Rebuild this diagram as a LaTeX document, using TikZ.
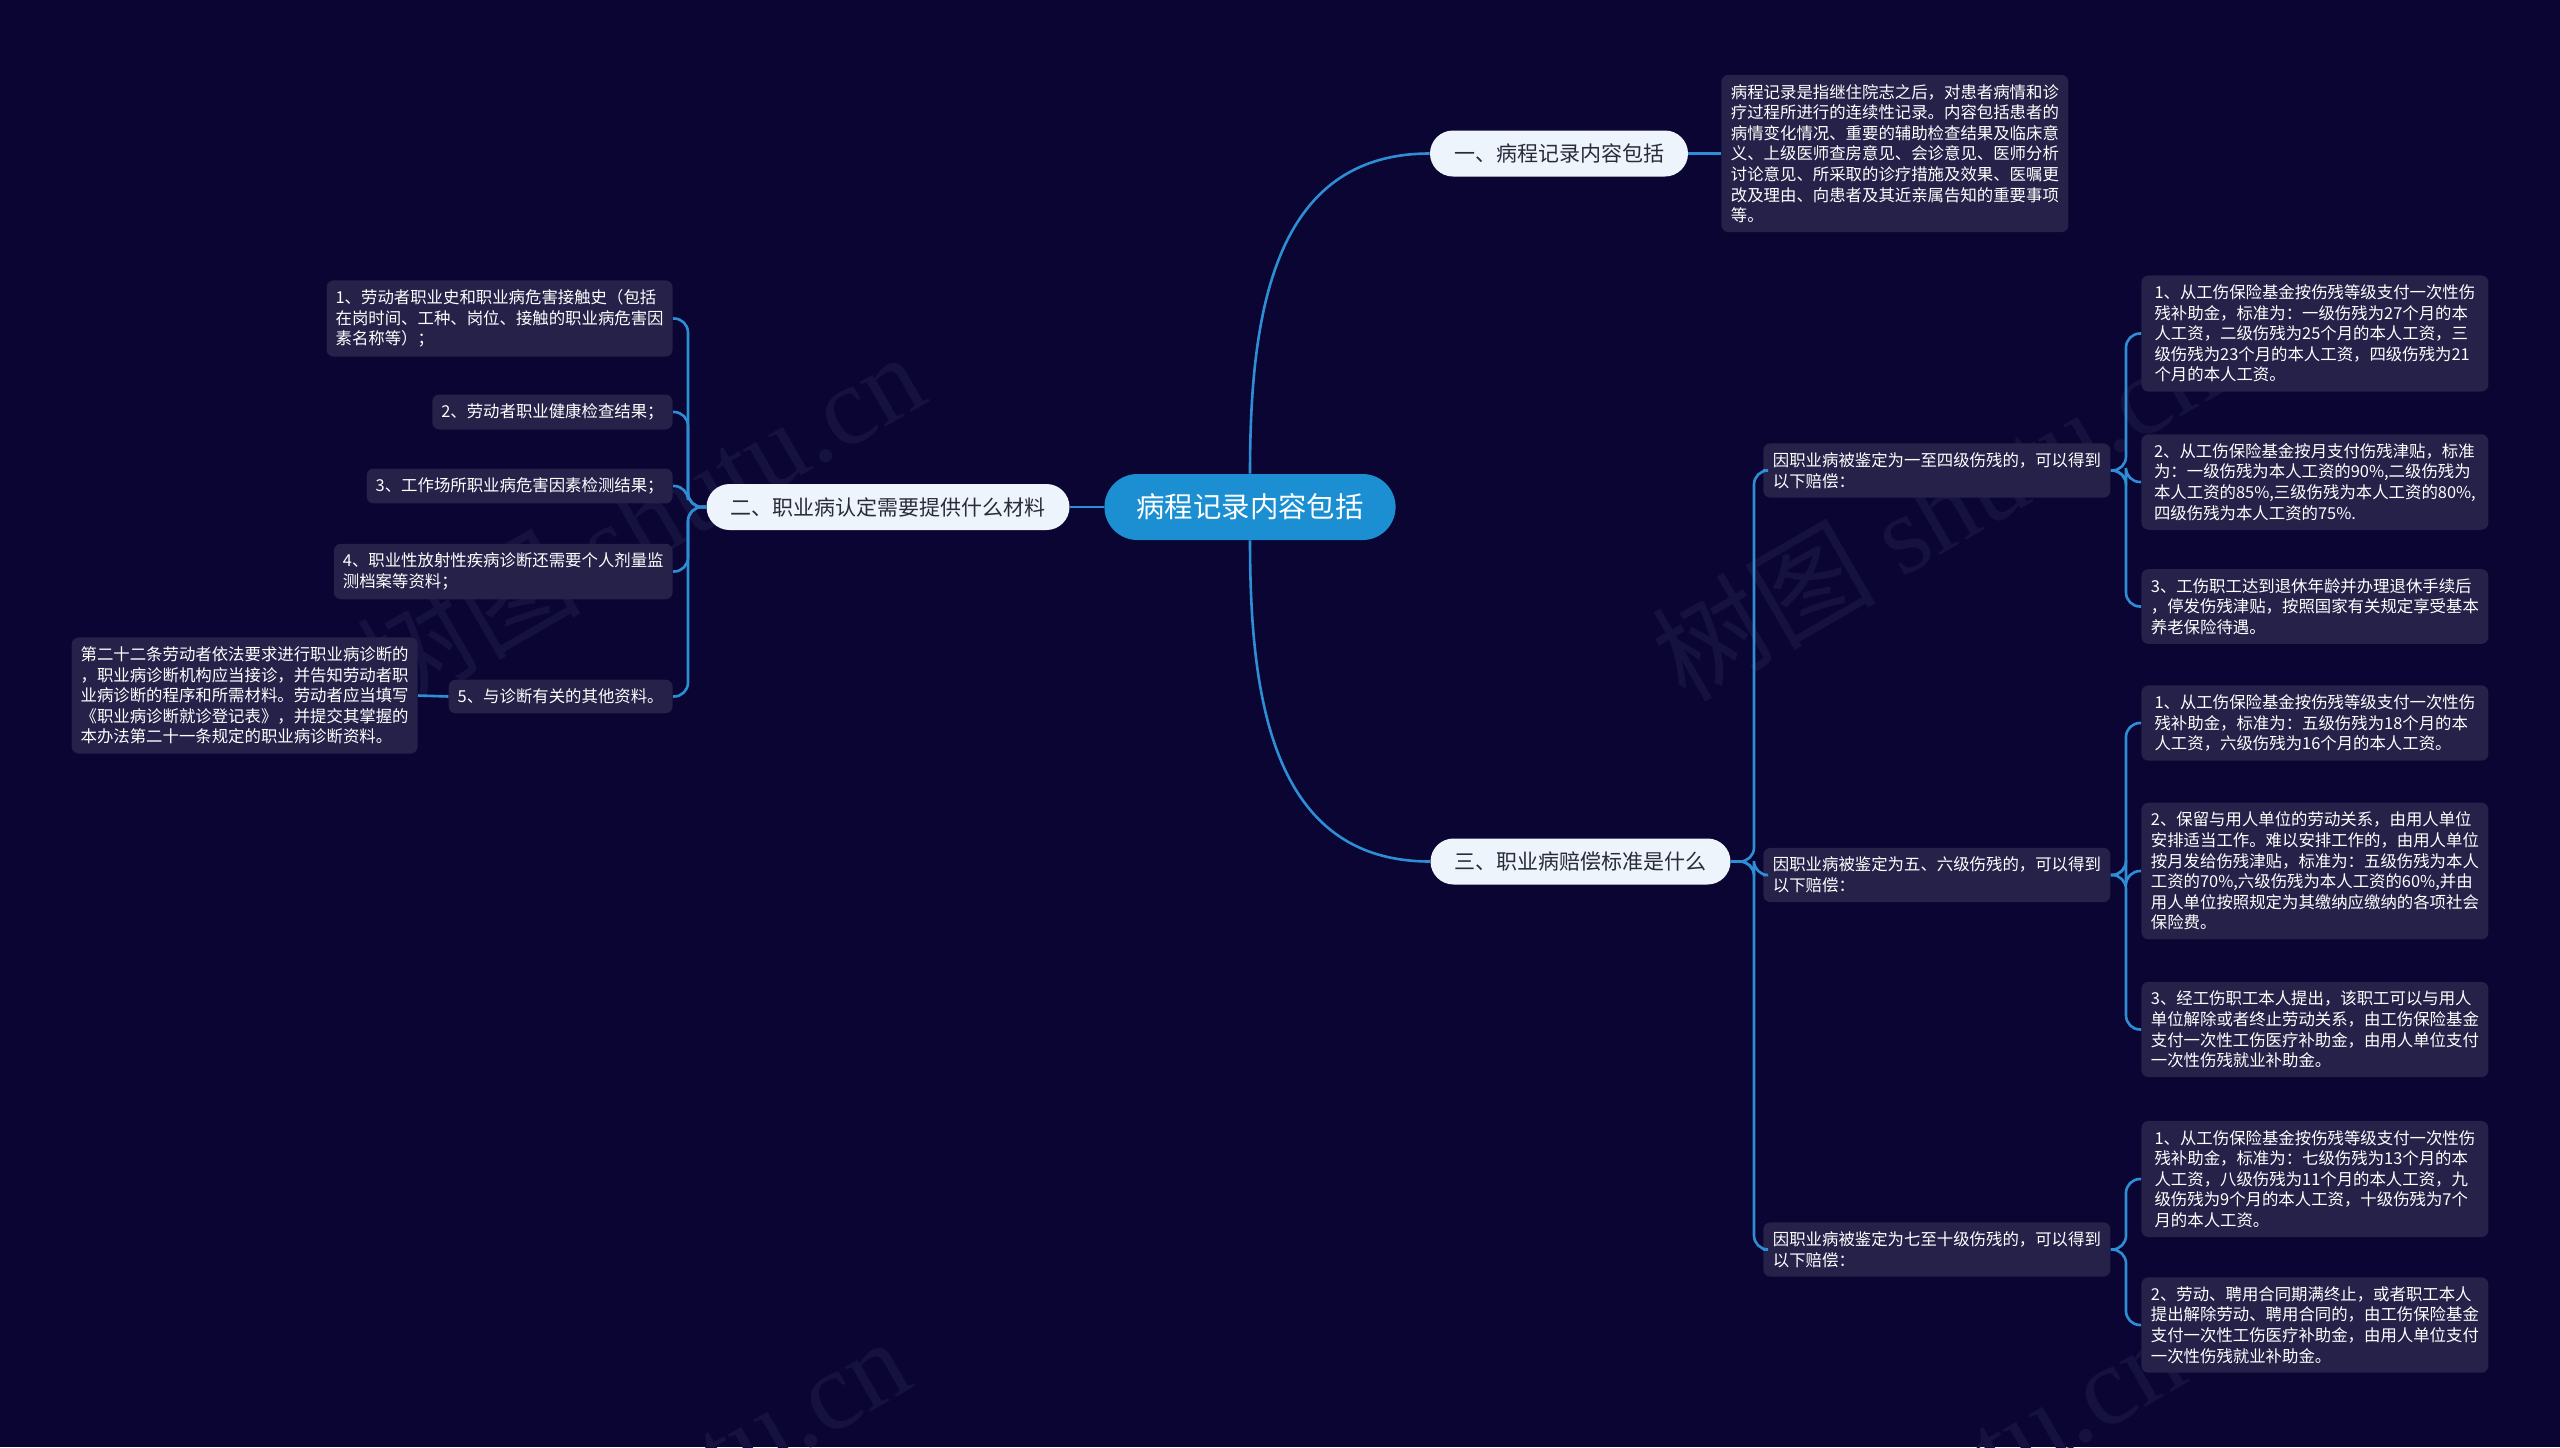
\documentclass[tikz,border=0pt]{standalone}
\usepackage{fontspec}
\setmainfont{Noto Sans CJK SC}
\newfontfamily\wmserif{Liberation Serif}
\definecolor{bgc}{HTML}{0A0532}
\definecolor{leafc}{HTML}{252148}
\definecolor{branchc}{HTML}{EEF4FC}
\definecolor{branchtext}{HTML}{2A2A3A}
\definecolor{rootc}{HTML}{1B8FD2}
\definecolor{linec}{HTML}{2D8ED6}
\definecolor{wmc}{HTML}{16123F}
\tikzset{
  conn/.style={draw=linec, line width=1.3pt, rounded corners=7pt},
  rootconn/.style={draw=linec, line width=1.3pt},
  leaf/.style={fill=leafc, text=white, rounded corners=3.5pt, inner xsep=4.5pt, inner ysep=4.6pt, align=left, font=\fontsize{8.2pt}{10.3pt}\selectfont},
  rleaf/.style={leaf, minimum width=173.5pt, anchor=west},
  lleaf/.style={leaf, anchor=east},
  branch/.style={fill=branchc, text=branchtext, rounded corners=11.5pt, minimum height=23pt, inner xsep=12pt, font=\fontsize{10.5pt}{12pt}\selectfont},
  rootnode/.style={fill=rootc, text=white, rounded corners=16.5pt, minimum height=33pt, inner xsep=16pt, font=\fontsize{14.2pt}{16pt}\selectfont},
  wm/.style={text=wmc, rotate=30, font=\fontsize{56pt}{60pt}\selectfont}
}
\begin{document}
\begin{tikzpicture}[x=0.5pt,y=-0.5pt]
\fill[bgc] (0,0) rectangle (2560,1447);
\useasboundingbox (0,0) rectangle (2560,1447);

% watermarks
\node[wm] (wm1) at (640,520) {树图 {\wmserif shutu.cn}};
\node[wm] (wm2) at (1935,510) {树图 {\wmserif shutu.cn}};
\node[wm] (wm3) at (625,1505) {树图 {\wmserif shutu.cn}};
\node[wm] (wm4) at (1900,1500) {树图 {\wmserif shutu.cn}};

% root and branches
\node[rootnode] (root) at (1250,507) {病程记录内容包括};
\node[branch] (b1) at (1559,153.5) {一、病程记录内容包括};
\node[branch] (b2) at (888,507) {二、职业病认定需要提供什么材料};
\node[branch] (b3) at (1580.5,861.5) {三、职业病赔偿标准是什么};

% branch 1 detail
\node[rleaf] (d1) at (1721,153.5) {病程记录是指继住院志之后，对患者病情和诊\\疗过程所进行的连续性记录。内容包括患者的\\病情变化情况、重要的辅助检查结果及临床意\\义、上级医师查房意见、会诊意见、医师分析\\讨论意见、所采取的诊疗措施及效果、医嘱更\\改及理由、向患者及其近亲属告知的重要事项\\等。};

% branch 2 leaves
\node[lleaf] (l1) at (673,318.5) {1、劳动者职业史和职业病危害接触史（包括\\在岗时间、工种、岗位、接触的职业病危害因\\素名称等）；};
\node[lleaf] (l2) at (673,412) {2、劳动者职业健康检查结果；};
\node[lleaf] (l3) at (673,486) {3、工作场所职业病危害因素检测结果；};
\node[lleaf] (l4) at (673,571.5) {4、职业性放射性疾病诊断还需要个人剂量监\\测档案等资料；};
\node[lleaf] (l5) at (673,696.5) {5、与诊断有关的其他资料。};
\node[lleaf] (l5d) at (418,695.5) {第二十二条劳动者依法要求进行职业病诊断的\\，职业病诊断机构应当接诊，并告知劳动者职\\业病诊断的程序和所需材料。劳动者应当填写\\《职业病诊断就诊登记表》，并提交其掌握的\\本办法第二十一条规定的职业病诊断资料。};

% branch 3 sub nodes
\node[rleaf] (s1) at (1763,470.5) {因职业病被鉴定为一至四级伤残的，可以得到\\以下赔偿：};
\node[rleaf] (s2) at (1763,875) {因职业病被鉴定为五、六级伤残的，可以得到\\以下赔偿：};
\node[rleaf] (s3) at (1763,1249.5) {因职业病被鉴定为七至十级伤残的，可以得到\\以下赔偿：};

\node[rleaf] (s1a) at (2141,333.5) {1、从工伤保险基金按伤残等级支付一次性伤\\残补助金，标准为：一级伤残为27个月的本\\人工资，二级伤残为25个月的本人工资，三\\级伤残为23个月的本人工资，四级伤残为21\\个月的本人工资。};
\node[rleaf] (s1b) at (2141,482) {2、从工伤保险基金按月支付伤残津贴，标准\\为：一级伤残为本人工资的90\%,二级伤残为\\本人工资的85\%,三级伤残为本人工资的80\%,\\四级伤残为本人工资的75\%.};
\node[rleaf] (s1c) at (2141,606.5) {3、工伤职工达到退休年龄并办理退休手续后\\，停发伤残津贴，按照国家有关规定享受基本\\养老保险待遇。};

\node[rleaf] (s2a) at (2141,723) {1、从工伤保险基金按伤残等级支付一次性伤\\残补助金，标准为：五级伤残为18个月的本\\人工资，六级伤残为16个月的本人工资。};
\node[rleaf] (s2b) at (2141,871) {2、保留与用人单位的劳动关系，由用人单位\\安排适当工作。难以安排工作的，由用人单位\\按月发给伤残津贴，标准为：五级伤残为本人\\工资的70\%,六级伤残为本人工资的60\%,并由\\用人单位按照规定为其缴纳应缴纳的各项社会\\保险费。};
\node[rleaf] (s2c) at (2141,1029.5) {3、经工伤职工本人提出，该职工可以与用人\\单位解除或者终止劳动关系，由工伤保险基金\\支付一次性工伤医疗补助金，由用人单位支付\\一次性伤残就业补助金。};

\node[rleaf] (s3a) at (2141,1179) {1、从工伤保险基金按伤残等级支付一次性伤\\残补助金，标准为：七级伤残为13个月的本\\人工资，八级伤残为11个月的本人工资，九\\级伤残为9个月的本人工资，十级伤残为7个\\月的本人工资。};
\node[rleaf] (s3b) at (2141,1325) {2、劳动、聘用合同期满终止，或者职工本人\\提出解除劳动、聘用合同的，由工伤保险基金\\支付一次性工伤医疗补助金，由用人单位支付\\一次性伤残就业补助金。};

% junction coordinates
\coordinate (j2) at (688,507);
\coordinate (j3) at (1754,861.5);
\coordinate (js1) at (2126,470.5);
\coordinate (js2) at (2126,875);
\coordinate (js3) at (2126,1249.5);

% connectors from root
\draw[rootconn] (root.north) to[out=90,in=180,looseness=1.1] (b1.west);
\draw[rootconn] (root.south) to[out=-90,in=180,looseness=1.1] (b3.west);
\draw[rootconn] (root.west) -- (b2.east);
\draw[rootconn] (b1.east) -- (d1.west);

% branch 2
\foreach \n in {l1,l2,l3,l4,l5}{
  \draw[conn] (b2.west) -- (j2) |- (\n.east);
}
\draw[rootconn] (l5.west) -- (l5d.east);

% branch 3
\foreach \n in {s1,s2,s3}{
  \draw[conn] (b3.east) -- (j3) |- (\n.west);
}
\foreach \n in {s1a,s1b,s1c}{
  \draw[conn] (s1.east) -- (js1) |- (\n.west);
}
\foreach \n in {s2a,s2b,s2c}{
  \draw[conn] (s2.east) -- (js2) |- (\n.west);
}
\foreach \n in {s3a,s3b}{
  \draw[conn] (s3.east) -- (js3) |- (\n.west);
}
\end{tikzpicture}
\end{document}
